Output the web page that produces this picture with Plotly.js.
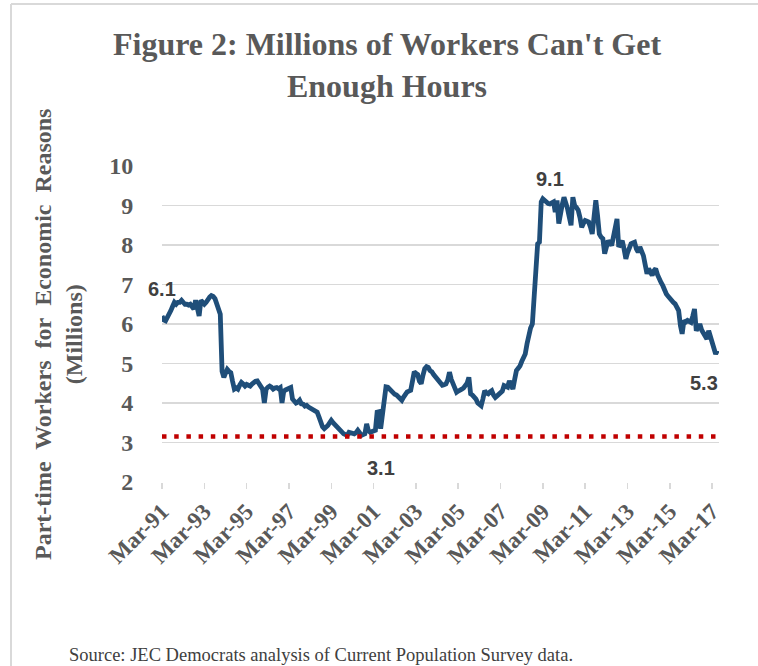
<!DOCTYPE html>
<html>
<head>
<meta charset="utf-8">
<script src="https://cdn.plot.ly/plotly-3.0.1.min.js"></script>
<style>
  html, body { margin: 0; padding: 0; background: #ffffff; }
  #chart { width: 758px; height: 666px; }
</style>
</head>
<body>
<div id="chart"></div>
<script>
// Monthly series, first month = March 1991 (rows are Mar..Feb of each year)
const START_YEAR = 1991;
const START_MONTH = 3;
const partTimeMillions = [
  6.20, 6.10, 6.08, 6.15, 6.25, 6.34, 6.45, 6.55, 6.50, 6.55, 6.55, 6.60,
  6.55, 6.50, 6.50, 6.48, 6.50, 6.45, 6.38, 6.60, 6.45, 6.20, 6.60, 6.55,
  6.50, 6.55, 6.64, 6.68, 6.72, 6.70, 6.64, 6.50, 6.34, 6.25, 4.80, 4.65,
  4.75, 4.85, 4.80, 4.77, 4.55, 4.35, 4.38, 4.35, 4.45, 4.52, 4.48, 4.43,
  4.47, 4.45, 4.43, 4.48, 4.52, 4.55, 4.56, 4.50, 4.43, 4.35, 4.00, 4.35,
  4.40, 4.43, 4.40, 4.35, 4.38, 4.39, 4.36, 4.39, 4.00, 4.30, 4.33, 4.35,
  4.37, 4.39, 4.10, 4.05, 4.00, 4.02, 4.07, 3.98, 3.97, 3.92, 3.94, 3.90,
  3.88, 3.86, 3.82, 3.80, 3.77, 3.65, 3.47, 3.40, 3.35, 3.38, 3.43, 3.50,
  3.56, 3.50, 3.45, 3.39, 3.35, 3.30, 3.26, 3.22, 3.20, 3.18, 3.26, 3.24,
  3.22, 3.22, 3.25, 3.31, 3.25, 3.18, 3.20, 3.22, 3.47, 3.30, 3.26, 3.28,
  3.30, 3.31, 3.77, 3.78, 3.35, 3.73, 4.10, 4.41, 4.40, 4.35, 4.28, 4.25,
  4.22, 4.20, 4.15, 4.10, 4.07, 4.15, 4.22, 4.28, 4.30, 4.32, 4.55, 4.79,
  4.75, 4.72, 4.55, 4.49, 4.70, 4.87, 4.92, 4.90, 4.82, 4.79, 4.72, 4.66,
  4.60, 4.53, 4.50, 4.45, 4.46, 4.48, 4.58, 4.78, 4.60, 4.48, 4.35, 4.27,
  4.30, 4.31, 4.35, 4.38, 4.44, 4.50, 4.65, 4.23, 4.20, 4.15, 4.10, 4.00,
  3.98, 3.93, 4.10, 4.31, 4.25, 4.23, 4.28, 4.31, 4.20, 4.14, 4.18, 4.23,
  4.25, 4.30, 4.44, 4.42, 4.40, 4.56, 4.40, 4.35, 4.60, 4.82, 4.88, 4.94,
  5.05, 5.20, 5.24, 5.50, 5.79, 5.90, 6.00, 6.59, 7.44, 8.03, 8.07, 9.09,
  9.17, 9.12, 9.09, 9.05, 9.04, 9.06, 9.09, 8.83, 9.13, 8.54, 8.90, 9.04,
  9.21, 9.10, 8.92, 8.70, 8.50, 9.21, 9.00, 8.95, 8.88, 8.70, 8.45, 8.55,
  8.62, 8.60, 8.58, 8.45, 8.28, 8.70, 9.13, 8.75, 8.28, 8.20, 8.16, 7.78,
  7.95, 8.11, 8.05, 7.99, 8.20, 8.50, 8.66, 7.95, 8.05, 8.11, 7.90, 7.65,
  7.80, 7.95, 8.03, 8.05, 8.07, 7.90, 7.82, 7.95, 7.85, 7.73, 7.50, 7.27,
  7.40, 7.30, 7.23, 7.35, 7.40, 7.25, 7.10, 7.05, 6.97, 6.85, 6.76, 6.70,
  6.64, 6.60, 6.55, 6.51, 6.42, 6.34, 5.96, 5.75, 6.09, 6.05, 6.09, 6.07,
  6.04, 6.20, 6.38, 5.83, 5.95, 6.00, 5.85, 5.79, 5.70, 5.62, 5.83, 5.70,
  5.58, 5.40, 5.24, 5.33
];
const referenceLevel = 3.15;           // red dotted line (labelled 3.1)
const labelTexts = ['6.1', '9.1', '3.1', '5.3'];
const labelIndex = [0, 220, 124, 315]; // months the labels refer to
const tickYears = [1991, 1993, 1995, 1997, 1999, 2001, 2003, 2005, 2007, 2009, 2011, 2013, 2015, 2017];
const yTicks = [2, 3, 4, 5, 6, 7, 8, 9, 10];

function pad(n) { return (n < 10 ? '0' : '') + n; }
const dates = partTimeMillions.map(function (v, i) {
  const t = (START_MONTH - 1) + i;
  const y = START_YEAR + Math.floor(t / 12);
  const m = (t % 12) + 1;
  return y + '-' + pad(m) + '-01';
});
const tickVals = tickYears.map(function (y) { return y + '-03-01'; });
const tickText = tickYears.map(function (y) { return 'Mar-' + String(y).slice(2); });

const grey = '#595959';
const serif = '"Liberation Serif", "Times New Roman", serif';
const sans = '"Liberation Sans", Arial, sans-serif';
const NB = '\u00A0 ';

const trace = {
  x: dates,
  y: partTimeMillions,
  type: 'scatter',
  mode: 'lines',
  line: { color: '#1f4e79', width: 4.8 },
  hoverinfo: 'x+y',
  showlegend: false
};

const labelShifts = [[0, 27], [0, 25], [0, -31], [-13, -33]];
const annotations = labelTexts.map(function (t, k) {
  const idx = labelIndex[k];
  return {
    x: dates[idx],
    y: k === 2 ? referenceLevel : partTimeMillions[idx],
    xref: 'x', yref: 'y',
    text: t,
    showarrow: false,
    xanchor: 'center', yanchor: 'middle',
    xshift: labelShifts[k][0], yshift: labelShifts[k][1],
    font: { family: sans, size: 20, color: '#404040', weight: 'bold' }
  };
});
// y-axis title
annotations.push({
  xref: 'paper', yref: 'paper',
  x: (58 - 162) / 557, y: (482 - 335) / 316,
  xanchor: 'center', yanchor: 'middle',
  textangle: -90,
  text: 'Part-time' + NB + 'Workers' + NB + 'for' + NB + 'Economic' + NB + 'Reasons<br>(Millions)',
  showarrow: false,
  font: { family: serif, size: 24, color: grey, weight: 'bold' }
});
annotations.push({
  xref: 'paper', yref: 'paper',
  x: (67 - 162) / 557, y: (482 - 655) / 316,
  xanchor: 'left', yanchor: 'middle',
  text: 'Source: JEC Democrats analysis of Current Population Survey data.',
  showarrow: false,
  font: { family: serif, size: 18.5, color: '#404040' }
});

const layout = {
  width: 758,
  height: 666,
  paper_bgcolor: '#ffffff',
  plot_bgcolor: '#ffffff',
  margin: { l: 162, r: 39, t: 166, b: 184, pad: 0 },
  title: {
    text: "Figure 2: Millions of Workers Can't Get<br>Enough Hours",
    x: 387 / 758, xanchor: 'center', xref: 'container',
    y: 1 - 55 / 666, yanchor: 'top', yref: 'container',
    font: { family: serif, size: 32, color: grey, weight: 'bold' }
  },
  xaxis: {
    type: 'date',
    range: ['1991-03-01', '2017-06-28'],
    tickmode: 'array',
    tickvals: tickVals,
    ticktext: tickText,
    tickangle: -45,
    ticks: 'outside', ticklen: 6, tickwidth: 1.5, tickcolor: '#d9d9d9',
    showgrid: false,
    showline: false,
    zeroline: false,
    tickfont: { family: serif, size: 23, color: grey, weight: 'bold' },
    automargin: false,
    fixedrange: true
  },
  yaxis: {
    range: [2, 10],
    tickmode: 'array',
    tickvals: yTicks,
    ticks: 'outside', ticklen: 23, tickcolor: 'rgba(0,0,0,0)',
    showgrid: true, gridcolor: '#d9d9d9', gridwidth: 1.5,
    zeroline: false,
    showline: false,
    tickfont: { family: serif, size: 24, color: grey, weight: 'bold' },
    automargin: false,
    fixedrange: true
  },
  shapes: [
    { type: 'line', xref: 'paper', yref: 'y', x0: 0, x1: 1, y0: referenceLevel, y1: referenceLevel,
      line: { color: '#c00000', width: 4.5, dash: '4.5px,7.7px' }, layer: 'above' },
    { type: 'line', xref: 'paper', yref: 'paper', x0: (11 - 162) / 557, x1: 1.1, y0: 1 + (166 - 4) / 316, y1: 1 + (166 - 4) / 316,
      line: { color: '#d9d9d9', width: 2 } },
    { type: 'line', xref: 'paper', yref: 'paper', x0: (11 - 162) / 557, x1: (11 - 162) / 557, y0: 1 + (166 - 4) / 316, y1: -1,
      line: { color: '#d9d9d9', width: 2 } }
  ],
  annotations: annotations,
  showlegend: false
};

Plotly.newPlot('chart', [trace], layout, { displayModeBar: false, staticPlot: true });
</script>
</body>
</html>
